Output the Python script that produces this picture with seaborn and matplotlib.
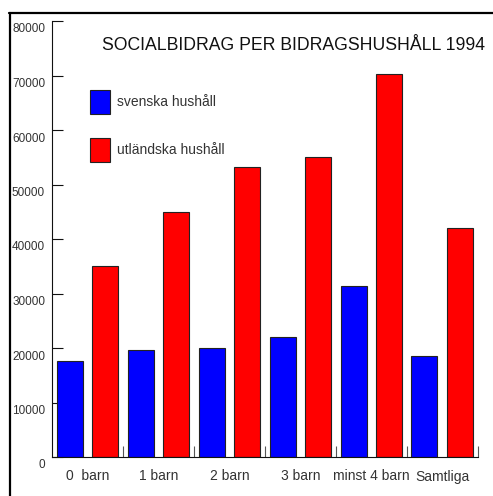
import matplotlib
matplotlib.use("Agg")
import matplotlib.pyplot as plt
import matplotlib.transforms as mtransforms
from matplotlib.lines import Line2D
import seaborn as sns
import pandas as pd

categories = ["0  barn", "1 barn", "2 barn", "3 barn", "minst 4 barn", "Samtliga"]
svenska = [17700, 19600, 20000, 22100, 31400, 18600]
utlandska = [35100, 45000, 53200, 55000, 70300, 42000]
series_names = ["svenska hushåll", "utländska hushåll"]
yticks = [0, 10000, 20000, 30000, 40000, 50000, 60000, 70000, 80000]
title = "SOCIALBIDRAG PER BIDRAGSHUSHÅLL 1994"

df = pd.DataFrame({
    "kategori": categories * 2,
    "grupp": [series_names[0]] * len(categories) + [series_names[1]] * len(categories),
    "bidrag": svenska + utlandska,
})

sns.set_theme(style="white")
plt.rcParams["font.family"] = ["Liberation Sans", "DejaVu Sans"]

W, H = 493, 496
fig = plt.figure(figsize=(W / 100, H / 100), dpi=100)
ax = fig.add_axes([52 / W, (H - 457) / H, (478 - 52) / W, (457 - 21) / H])

sns.barplot(data=df, x="kategori", y="bidrag", hue="grupp", order=categories,
            hue_order=series_names, palette=["#0000ff", "#ff0000"],
            width=1.0, gap=0.267, edgecolor="#222222", linewidth=0.8,
            saturation=1, ax=ax)

ax.set_xlim(-0.504, 5.505)
ax.set_ylim(0, 80000)
ax.set_yticks(yticks)
ax.set_yticklabels([str(v) for v in yticks], fontsize=8.5, color="#333333")
ax.set_xlabel("")
ax.set_ylabel("")
ax.tick_params(axis="y", direction="in", length=8, width=0.8, color="#111111", pad=5, left=True)
ax.tick_params(axis="x", which="major", length=0, pad=9, labelsize=10, labelcolor="#333333")
ax.set_xticks([i * 0.5 for i in range(12)], minor=True)
ax.tick_params(axis="x", which="minor", direction="in", length=8, width=0.8, color="#555555", bottom=True)
for s in ["top", "right"]:
    ax.spines[s].set_visible(False)
for s in ["left", "bottom"]:
    ax.spines[s].set_color("#111111")
    ax.spines[s].set_linewidth(0.8)

off = mtransforms.ScaledTranslation(0, -7 / 100, fig.dpi_scale_trans)
for t in ax.yaxis.get_major_ticks():
    t.label1.set_transform(t.label1.get_transform() + off)

sns.move_legend(ax, "upper left", bbox_to_anchor=(90 / W, 1 - 90 / H),
                bbox_transform=fig.transFigure, frameon=False, title=None,
                fontsize=10, handlelength=1.44, handleheight=2.28,
                labelspacing=1.73, handletextpad=0.5, borderpad=0, borderaxespad=0)
leg = ax.get_legend()
for txt in leg.get_texts():
    txt.set_color("#333333")

fig.text(102 / W, 1 - 50 / H, title, fontsize=12.7, color="#111111", va="baseline", ha="left")

fig.add_artist(Line2D([9 / W, 1], [1 - 12.5 / H, 1 - 12.5 / H], transform=fig.transFigure,
                      color="black", linewidth=1.6))
fig.add_artist(Line2D([9.5 / W, 9.5 / W], [0, 1 - 12.5 / H], transform=fig.transFigure,
                      color="black", linewidth=1.6))

fig.savefig("out.png", dpi=100)
